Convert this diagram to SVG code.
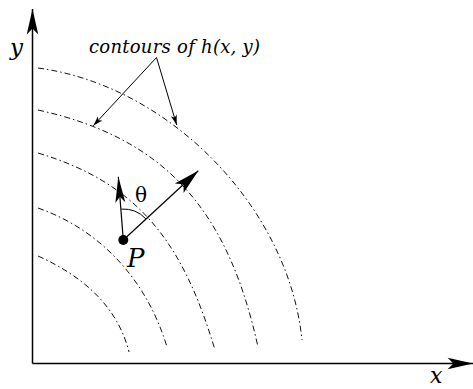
<svg xmlns="http://www.w3.org/2000/svg" width="473" height="389" viewBox="0 0 473 389">
<style>
  .axis { stroke:#000; stroke-width:1.5; fill:none; }
  .contour { stroke:#111; stroke-width:1; fill:none; stroke-dasharray:6 3 1.5 3; }
  .lead { stroke:#000; stroke-width:1; fill:none; }
  .vec { stroke:#000; stroke-width:1.2; fill:none; }
  .lbl { font-family:"DejaVu Serif","Liberation Serif",serif; font-style:italic; fill:#000; }
  .sym { font-family:"DejaVu Serif","Liberation Serif",serif; fill:#000; }
</style>
<defs>
  <marker id="axhead" markerUnits="userSpaceOnUse" markerWidth="30" markerHeight="14" viewBox="-24 -6 26 12" refX="0" refY="0" orient="auto" overflow="visible">
    <path d="M0,0 L-22,-5 L-17,0 L-22,5 Z" fill="#000"/>
  </marker>
  <marker id="bighead" markerUnits="userSpaceOnUse" markerWidth="30" markerHeight="16" viewBox="-28 -7 30 14" refX="0" refY="0" orient="auto" overflow="visible">
    <path d="M0,0 L-26,-6.5 L-20,0 L-26,6.5 Z" fill="#000"/>
  </marker>
  <marker id="midhead" markerUnits="userSpaceOnUse" markerWidth="30" markerHeight="14" viewBox="-28 -6 30 12" refX="0" refY="0" orient="auto" overflow="visible">
    <path d="M0,0 L-26,-5 L-20,0 L-26,5 Z" fill="#000"/>
  </marker>
  <marker id="smhead" markerUnits="userSpaceOnUse" markerWidth="14" markerHeight="8" viewBox="-12 -4 14 8" refX="0" refY="0" orient="auto" overflow="visible">
    <path d="M0,0 L-10,-3 L-7.5,0 L-10,3 Z" fill="#000"/>
  </marker>
</defs>
<rect width="473" height="389" fill="#fff"/>

<g id="axes">
  <path class="axis" d="M32.5,363.5 L32.5,9" marker-end="url(#axhead)"/>
  <path class="axis" d="M32.5,363.5 L473,363.5" marker-end="url(#axhead)"/>
  <text class="lbl" x="10" y="55" font-size="23">y</text>
  <text class="lbl" x="430" y="382.5" font-size="22">x</text>
</g>

<g id="contours">
  <path class="contour" d="M38,68 C169.8,85.7 288.6,207.7 302,340"/>
  <path class="contour" d="M38,110 C169.9,139 229,215.1 258,347"/>
  <path class="contour" d="M38,153 C141.6,184 184,246.4 215,350"/>
  <path class="contour" d="M38,208 C102.2,230.5 147.5,281.9 167,347"/>
  <path class="contour" d="M38,256 C81.8,275.7 117.3,305.4 129,352"/>
</g>

<g id="contour-label">
  <text class="lbl" x="89" y="52.5" font-size="18" textLength="171">contours of h(x, y)</text>
</g>

<g id="connectors">
  <path class="lead" d="M156.5,57.5 L93.3,125.7" marker-end="url(#smhead)"/>
  <path class="lead" d="M156.5,57.5 L176.7,125" marker-end="url(#smhead)"/>
  <path class="vec" d="M123.3,240 L198.3,170.7" marker-end="url(#bighead)"/>
  <path class="vec" d="M123.3,240 L118.3,176.7" marker-end="url(#midhead)"/>
  <path class="lead" d="M121.3,209.1 A31,31 0 0 1 146,219"/>
</g>

<g id="point-P">
  <circle cx="123.3" cy="240" r="5" fill="#000"/>
  <text class="lbl" x="127" y="266.5" font-size="26">P</text>
</g>

<g id="theta">
  <text class="sym" x="135" y="202" font-size="20">θ</text>
</g>
</svg>
